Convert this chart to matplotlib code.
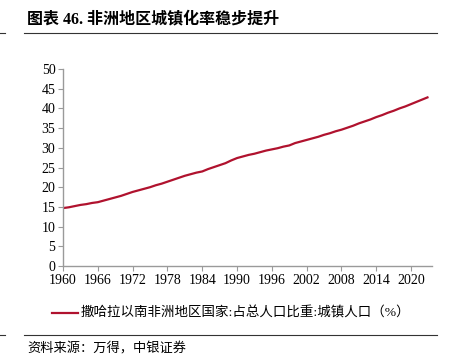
import matplotlib
matplotlib.use("Agg")
import matplotlib.pyplot as plt
from matplotlib.lines import Line2D

# 撒哈拉以南非洲 城镇人口占比 (%)
years = list(range(1960, 2024))
urban_pct = [
    14.7, 14.9, 15.2, 15.5, 15.7, 16.0, 16.2, 16.6, 17.0, 17.4,
    17.8, 18.3, 18.8, 19.2, 19.6, 20.0, 20.5, 20.9, 21.4, 21.9,
    22.4, 22.9, 23.3, 23.7, 24.0, 24.6, 25.1, 25.6, 26.1, 26.8,
    27.4, 27.8, 28.2, 28.5, 28.9, 29.3, 29.6, 29.9, 30.3, 30.6,
    31.2, 31.6, 32.0, 32.4, 32.8, 33.3, 33.7, 34.2, 34.6, 35.1,
    35.6, 36.2, 36.7, 37.2, 37.8, 38.3, 38.9, 39.4, 40.0, 40.5,
    41.1, 41.7, 42.3, 42.9,
]
xtick_years = list(range(1960, 2024, 6))
yticks = list(range(0, 51, 5))

title = "图表 46. 非洲地区城镇化率稳步提升"
legend_label = "撒哈拉以南非洲地区国家:占总人口比重:城镇人口（%）"
source = "资料来源：万得，中银证券"

SERIF_CJK = ["Liberation Serif", "Noto Sans CJK SC"]
RED = "#b0122e"
AX_GRAY = "#9a9a9a"

fig = plt.figure(figsize=(4.54, 3.55), dpi=100)
ax = fig.add_axes([0.1388, 0.2507, 0.8127, 0.5549])

ax.plot(years, urban_pct, color=RED, lw=1.6, solid_capstyle="butt")

ax.set_xlim(1960, 2023.6)
ax.set_ylim(0, 50)
ax.set_xticks(xtick_years)
ax.set_yticks(yticks)
ax.tick_params(direction="out", length=3.5, width=0.8, color=AX_GRAY,
               labelsize=10, pad=2)
for lab in ax.get_xticklabels() + ax.get_yticklabels():
    lab.set_family("Liberation Serif")

for side in ("top", "right"):
    ax.spines[side].set_visible(False)
for side in ("left", "bottom"):
    ax.spines[side].set_color(AX_GRAY)
    ax.spines[side].set_linewidth(1.0)

# title and rules
fig.text(27 / 454, 1 - 19 / 355, title, family=SERIF_CJK, fontweight="bold",
         fontsize=11.5, va="center", ha="left")
fig.add_artist(Line2D([24 / 454, 437 / 454], [1 - 33 / 355] * 2,
                      color="#333333", lw=0.8))
fig.add_artist(Line2D([0, 5 / 454], [1 - 33 / 355] * 2, color="#333333", lw=0.8))

# legend
fig.add_artist(Line2D([52 / 454, 78 / 454], [1 - 313 / 355] * 2, color=RED, lw=1.6))
fig.text(81 / 454, 1 - 313 / 355, legend_label, family=SERIF_CJK,
         fontsize=9.7, va="center", ha="left")

# source
fig.add_artist(Line2D([24 / 454, 437 / 454], [1 - 335 / 355] * 2,
                      color="#333333", lw=0.8))
fig.add_artist(Line2D([0, 5 / 454], [1 - 335 / 355] * 2, color="#333333", lw=0.8))
fig.text(27 / 454, 1 - 349 / 355, source, family=SERIF_CJK, style="italic",
         fontsize=9.5, va="center", ha="left")

fig.savefig("out.png", dpi=100)
